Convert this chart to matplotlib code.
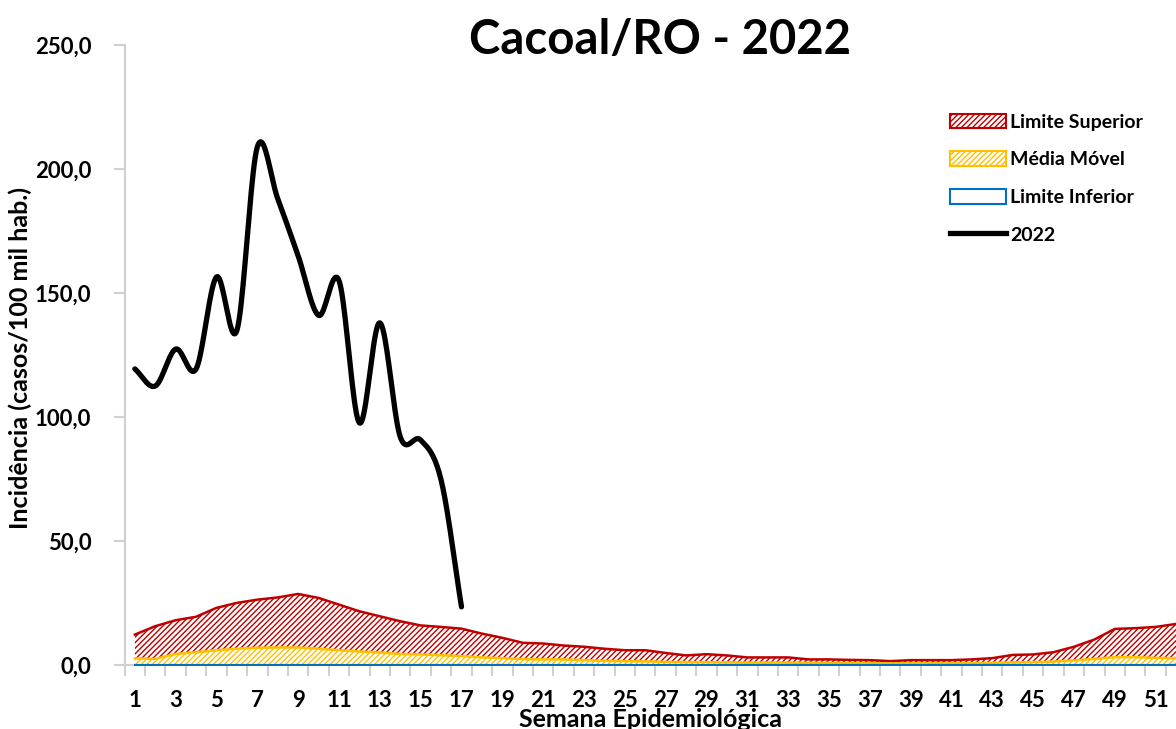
import numpy as np
import matplotlib.pyplot as plt
from matplotlib.patches import Patch
from matplotlib.lines import Line2D

plt.rcParams['font.family'] = ['Lato', 'DejaVu Sans']
plt.rcParams['hatch.linewidth'] = 1.0

# semanas epidemiologicas
semanas = np.arange(1, 53)

# limite superior (canal endemico)
limite_superior = [12.2, 15.6, 18.0, 19.4, 23.0, 25.0, 26.3, 27.2, 28.6, 27.0,
                   24.3, 21.6, 19.6, 17.6, 15.9, 15.3, 14.6, 12.6, 10.9, 8.9,
                   8.6, 7.8, 7.3, 6.5, 5.9, 5.9, 4.8, 3.8, 4.3, 3.8,
                   3.0, 3.0, 3.0, 2.2, 2.2, 2.0, 1.9, 1.5, 1.9, 1.9,
                   1.9, 2.2, 2.7, 4.0, 4.2, 5.1, 7.3, 10.2, 14.5, 14.8,
                   15.3, 16.5]

media_movel = [2.6, 2.4, 4.4, 5.1, 5.9, 6.5, 6.9, 7.0, 7.0, 6.5,
               5.9, 5.4, 5.0, 4.4, 4.2, 3.9, 3.5, 3.0, 2.7, 2.3,
               2.2, 2.2, 1.9, 1.6, 1.5, 1.4, 1.2, 1.1, 1.1, 1.0,
               0.9, 0.9, 0.9, 0.8, 0.8, 0.7, 0.7, 0.6, 0.6, 0.6,
               0.6, 0.7, 0.8, 1.0, 1.1, 1.3, 1.8, 2.4, 3.1, 3.1,
               2.8, 2.7]

limite_inferior = [0.0] * 52

# casos 2022 (semanas 1 a 17)
semanas_2022 = np.arange(1, 18)
incidencia_2022 = [119.4, 112.5, 127.4, 119.4, 156.5, 135.0, 209.0, 188.0, 165.0,
                   141.0, 155.0, 97.6, 138.0, 92.0, 90.7, 74.6, 23.4]


def suavizar(x, y, n=20):
    # curva suave estilo Excel (Catmull-Rom)
    x = np.asarray(x, float)
    y = np.asarray(y, float)
    px = np.concatenate([[2 * x[0] - x[1]], x, [2 * x[-1] - x[-2]]])
    py = np.concatenate([[2 * y[0] - y[1]], y, [2 * y[-1] - y[-2]]])
    xs, ys = [], []
    for i in range(1, len(px) - 2):
        t = np.linspace(0, 1, n, endpoint=False)
        for p, out in ((px, xs), (py, ys)):
            p0, p1, p2, p3 = p[i - 1], p[i], p[i + 1], p[i + 2]
            out.extend(0.5 * ((2 * p1) + (-p0 + p2) * t
                              + (2 * p0 - 5 * p1 + 4 * p2 - p3) * t ** 2
                              + (-p0 + 3 * p1 - 3 * p2 + p3) * t ** 3))
    xs.append(x[-1])
    ys.append(y[-1])
    return np.array(xs), np.array(ys)


fig = plt.figure(figsize=(11.76, 7.29), dpi=100)
ax = fig.add_axes([0.106, 0.088, 0.894, 0.85])

vermelho = '#C00000'
amarelo = '#FFC000'
azul = '#0070C0'

ax.fill_between(semanas, 0, limite_superior, facecolor='white', edgecolor=vermelho,
                hatch='//////', linewidth=0, zorder=2)
ax.plot(semanas, limite_superior, color=vermelho, lw=1.8, zorder=3)
ax.fill_between(semanas, 0, media_movel, facecolor='white', edgecolor=amarelo,
                hatch='//////', linewidth=0, zorder=4)
ax.plot(semanas, media_movel, color=amarelo, lw=1.8, zorder=5)
ax.fill_between(semanas, 0, limite_inferior, facecolor='white', edgecolor=azul,
                linewidth=1.5, zorder=6)

sx, sy = suavizar(semanas_2022, incidencia_2022)
ax.plot(sx, sy, color='black', lw=3.8, solid_capstyle='round', zorder=7)

ax.set_xlim(0.5, 51.68)
ax.set_ylim(0, 250)
ax.set_yticks(np.arange(0, 251, 50))
ax.set_yticklabels([f'{v:.1f}'.replace('.', ',') for v in np.arange(0, 251, 50)])
ax.set_xticks(semanas)
ax.set_xticklabels([str(s) if s % 2 == 1 else '' for s in semanas])
# marcas entre as categorias, como no Excel
ax.set_xticks(np.arange(0.5, 52, 1), minor=True)

for lado in ('top', 'right'):
    ax.spines[lado].set_visible(False)
for lado in ('left', 'bottom'):
    ax.spines[lado].set_color('#D0D0D0')
    ax.spines[lado].set_linewidth(1.5)
ax.tick_params(axis='y', colors='#D0D0D0', width=1.5, length=8,
               labelcolor='black', labelsize=16, pad=16)
ax.tick_params(axis='x', which='major', length=0, labelcolor='black',
               labelsize=16, pad=18)
ax.tick_params(axis='x', which='minor', colors='#D0D0D0', width=1.5, length=8)
for lbl in ax.get_xticklabels() + ax.get_yticklabels():
    lbl.set_fontweight('bold')

ax.set_ylabel('Incidência (casos/100 mil hab.)', fontsize=18, fontweight='bold')
ax.yaxis.set_label_coords(-0.088, 0.495)
ax.set_xlabel('Semana Epidemiológica', fontsize=18, fontweight='bold')
ax.xaxis.set_label_coords(0.5, -0.069)
fig.text(0.561, 0.945, 'Cacoal/RO - 2022', fontsize=34, fontweight='bold',
         ha='center', va='center')

handles = [
    Patch(facecolor='white', edgecolor=vermelho, hatch='//////', lw=1.5, label='Limite Superior'),
    Patch(facecolor='white', edgecolor=amarelo, hatch='//////', lw=1.5, label='Média Móvel'),
    Patch(facecolor='white', edgecolor=azul, lw=1.5, label='Limite Inferior'),
    Line2D([0], [0], color='black', lw=3.8, label='2022'),
]
leg = ax.legend(handles=handles, loc='upper left', bbox_to_anchor=(0.768, 0.918),
                frameon=False, handlelength=2.9, handleheight=0.8, handletextpad=0.2,
                labelspacing=1.05, prop={'weight': 'bold', 'size': 14})

fig.savefig('out.png', dpi=100)
